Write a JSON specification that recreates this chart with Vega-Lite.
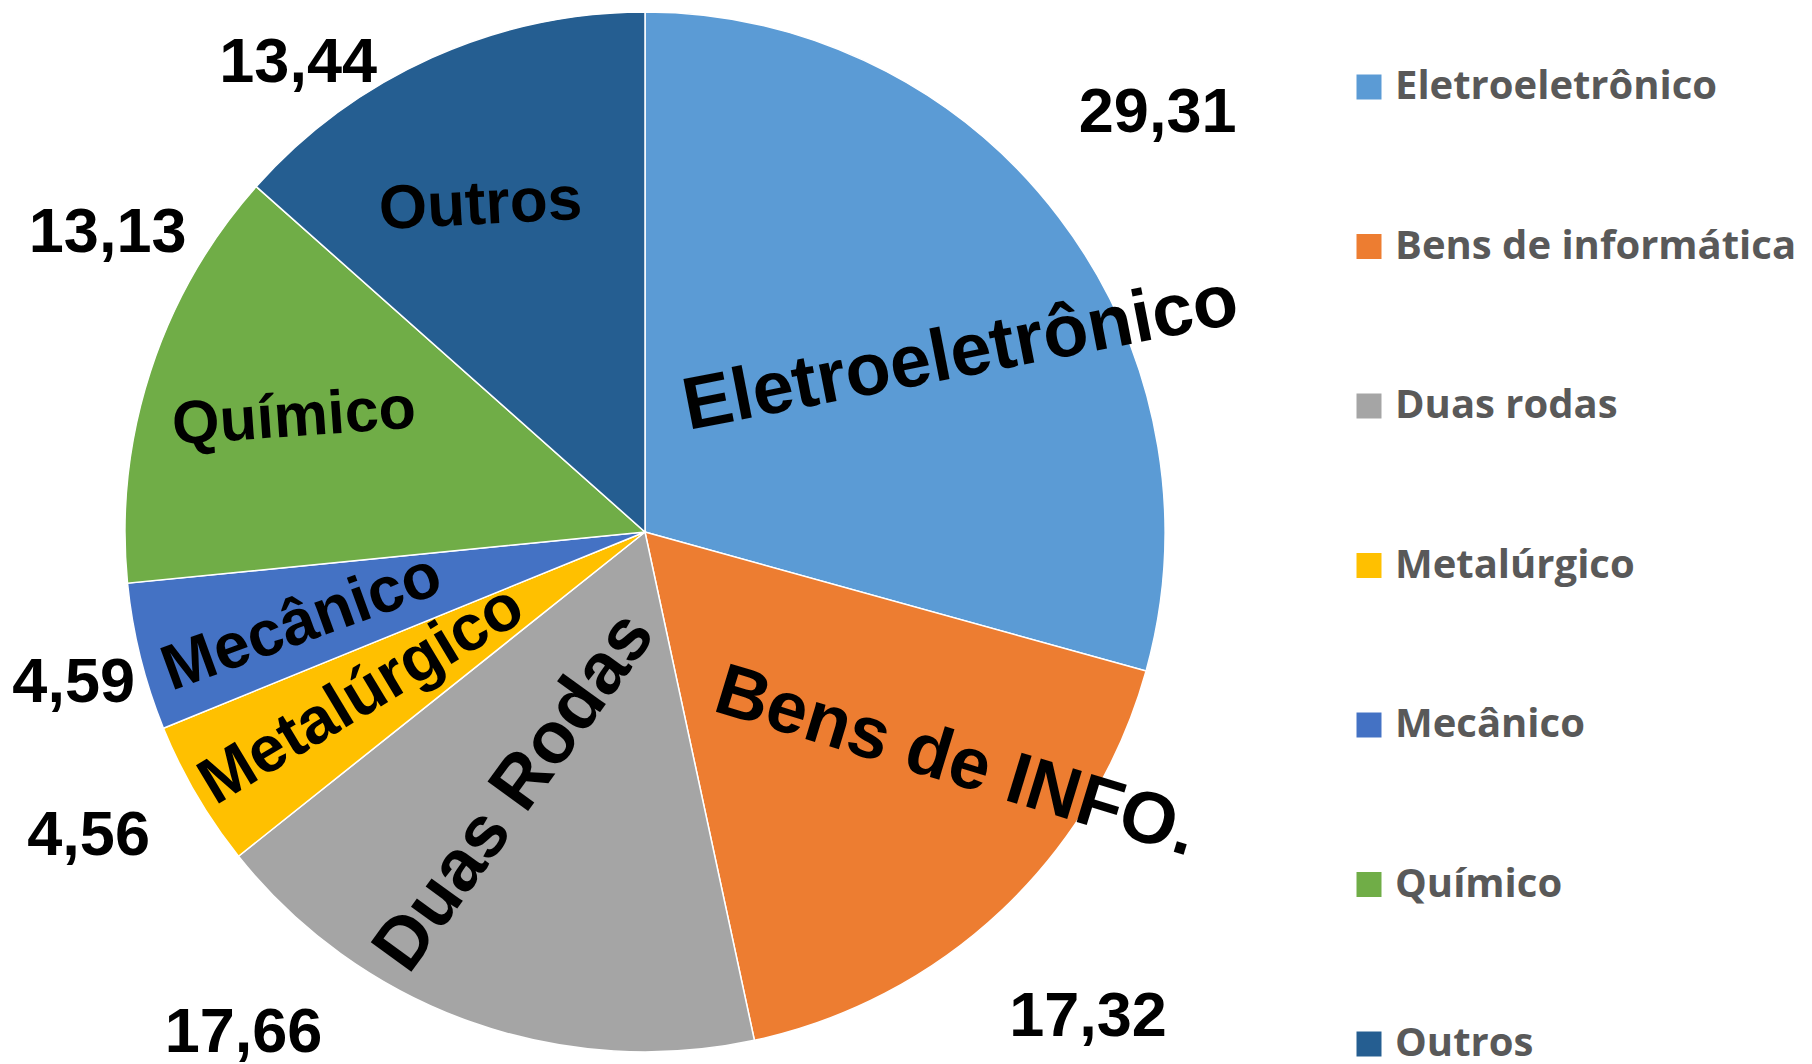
{
  "$schema": "https://vega.github.io/schema/vega-lite/v6.json",
  "width": 1290,
  "height": 1064,
  "autosize": {"type": "none"},
  "padding": {"left": 0, "top": 0, "right": 522, "bottom": 0},
  "background": "white",
  "config": {
    "view": {"stroke": null},
    "locale": {"number": {"decimal": ",", "thousands": ".", "grouping": [3], "currency": ["R$", ""]}}
  },
  "data": {
    "values": [
      {"i": 1, "cat": "Eletroeletrônico", "lbl": "Eletroeletrônico", "value": 29.31},
      {"i": 2, "cat": "Bens de informática", "lbl": "Bens de INFO.", "value": 17.32},
      {"i": 3, "cat": "Duas rodas", "lbl": "Duas Rodas", "value": 17.66},
      {"i": 4, "cat": "Metalúrgico", "lbl": "Metalúrgico", "value": 4.56},
      {"i": 5, "cat": "Mecânico", "lbl": "Mecânico", "value": 4.59},
      {"i": 6, "cat": "Químico", "lbl": "Químico", "value": 13.13},
      {"i": 7, "cat": "Outros", "lbl": "Outros", "value": 13.44}
    ]
  },
  "encoding": {
    "theta": {"field": "value", "type": "quantitative", "stack": true},
    "order": {"field": "i", "type": "quantitative"},
    "detail": {"field": "cat", "type": "nominal"}
  },
  "layer": [
    {
      "mark": {"type": "arc", "radius": 520, "stroke": "white", "strokeWidth": 1.5},
      "encoding": {
        "color": {
          "field": "cat",
          "type": "nominal",
          "scale": {
            "domain": ["Eletroeletrônico", "Bens de informática", "Duas rodas", "Metalúrgico", "Mecânico", "Químico", "Outros"],
            "range": ["#5B9BD5", "#ED7D31", "#A5A5A5", "#FFC000", "#4472C4", "#70AD47", "#255E91"]
          },
          "legend": {
            "title": null,
            "orient": "right",
            "offset": -8,
            "padding": 67,
            "symbolType": "square",
            "symbolSize": 625,
            "symbolStrokeWidth": 0,
            "labelFont": "Open Sans",
            "labelFontSize": 40,
            "labelFontWeight": "bold",
            "labelColor": "#595959",
            "labelOffset": 6,
            "rowPadding": 119.5,
            "labelLimit": 600
          }
        }
      }
    },
    {"mark": {"type": "text", "font": "Liberation Sans", "fontWeight": "bold", "fontSize": 74, "radius": 362, "thetaOffset": 0.138, "angle": -11, "color": "black"},
     "encoding": {"text": {"condition": {"test": "datum.i === 1", "field": "lbl"}, "value": ""}}},
    {"mark": {"type": "text", "font": "Liberation Sans", "fontWeight": "bold", "fontSize": 73, "radius": 387, "thetaOffset": -0.178, "angle": 17, "color": "black"},
     "encoding": {"text": {"condition": {"test": "datum.i === 2", "field": "lbl"}, "value": ""}}},
    {"mark": {"type": "text", "font": "Liberation Sans", "fontWeight": "bold", "fontSize": 73, "radius": 291, "thetaOffset": 0.122, "angle": -54, "color": "black"},
     "encoding": {"text": {"condition": {"test": "datum.i === 3", "field": "lbl"}, "value": ""}}},
    {"mark": {"type": "text", "font": "Liberation Sans", "fontWeight": "bold", "fontSize": 65, "radius": 327, "thetaOffset": 0.009, "angle": -31, "color": "black"},
     "encoding": {"text": {"condition": {"test": "datum.i === 4", "field": "lbl"}, "value": ""}}},
    {"mark": {"type": "text", "font": "Liberation Sans", "fontWeight": "bold", "fontSize": 64, "radius": 355, "thetaOffset": -0.017, "angle": -20, "color": "black"},
     "encoding": {"text": {"condition": {"test": "datum.i === 5", "field": "lbl"}, "value": ""}}},
    {"mark": {"type": "text", "font": "Liberation Sans", "fontWeight": "bold", "fontSize": 61, "radius": 369, "thetaOffset": 0, "angle": -4, "color": "black"},
     "encoding": {"text": {"condition": {"test": "datum.i === 6", "field": "lbl"}, "value": ""}}},
    {"mark": {"type": "text", "font": "Liberation Sans", "fontWeight": "bold", "fontSize": 62, "radius": 366, "thetaOffset": -0.044, "angle": -3, "color": "black"},
     "encoding": {"text": {"condition": {"test": "datum.i === 7", "field": "lbl"}, "value": ""}}},
    {"mark": {"type": "text", "font": "Liberation Sans", "fontWeight": "bold", "fontSize": 63, "radius": 662, "thetaOffset": -0.035, "color": "black"},
     "encoding": {"text": {"condition": {"test": "datum.i === 1", "field": "value", "type": "quantitative", "format": ".2f"}, "value": ""}}},
    {"mark": {"type": "text", "font": "Liberation Sans", "fontWeight": "bold", "fontSize": 63, "radius": 657, "thetaOffset": 0.016, "color": "black"},
     "encoding": {"text": {"condition": {"test": "datum.i === 2", "field": "value", "type": "quantitative", "format": ".2f"}, "value": ""}}},
    {"mark": {"type": "text", "font": "Liberation Sans", "fontWeight": "bold", "fontSize": 63, "radius": 642, "thetaOffset": 0.333, "color": "black"},
     "encoding": {"text": {"condition": {"test": "datum.i === 3", "field": "value", "type": "quantitative", "format": ".2f"}, "value": ""}}},
    {"mark": {"type": "text", "font": "Liberation Sans", "fontWeight": "bold", "fontSize": 63, "radius": 634, "thetaOffset": 0.030, "color": "black"},
     "encoding": {"text": {"condition": {"test": "datum.i === 4", "field": "value", "type": "quantitative", "format": ".2f"}, "value": ""}}},
    {"mark": {"type": "text", "font": "Liberation Sans", "fontWeight": "bold", "fontSize": 63, "radius": 591, "thetaOffset": -0.016, "color": "black"},
     "encoding": {"text": {"condition": {"test": "datum.i === 5", "field": "value", "type": "quantitative", "format": ".2f"}, "value": ""}}},
    {"mark": {"type": "text", "font": "Liberation Sans", "fontWeight": "bold", "fontSize": 63, "radius": 615, "thetaOffset": 0.194, "color": "black"},
     "encoding": {"text": {"condition": {"test": "datum.i === 6", "field": "value", "type": "quantitative", "format": ".2f"}, "value": ""}}},
    {"mark": {"type": "text", "font": "Liberation Sans", "fontWeight": "bold", "fontSize": 63, "radius": 583, "thetaOffset": -0.215, "color": "black"},
     "encoding": {"text": {"condition": {"test": "datum.i === 7", "field": "value", "type": "quantitative", "format": ".2f"}, "value": ""}}}
  ]
}
